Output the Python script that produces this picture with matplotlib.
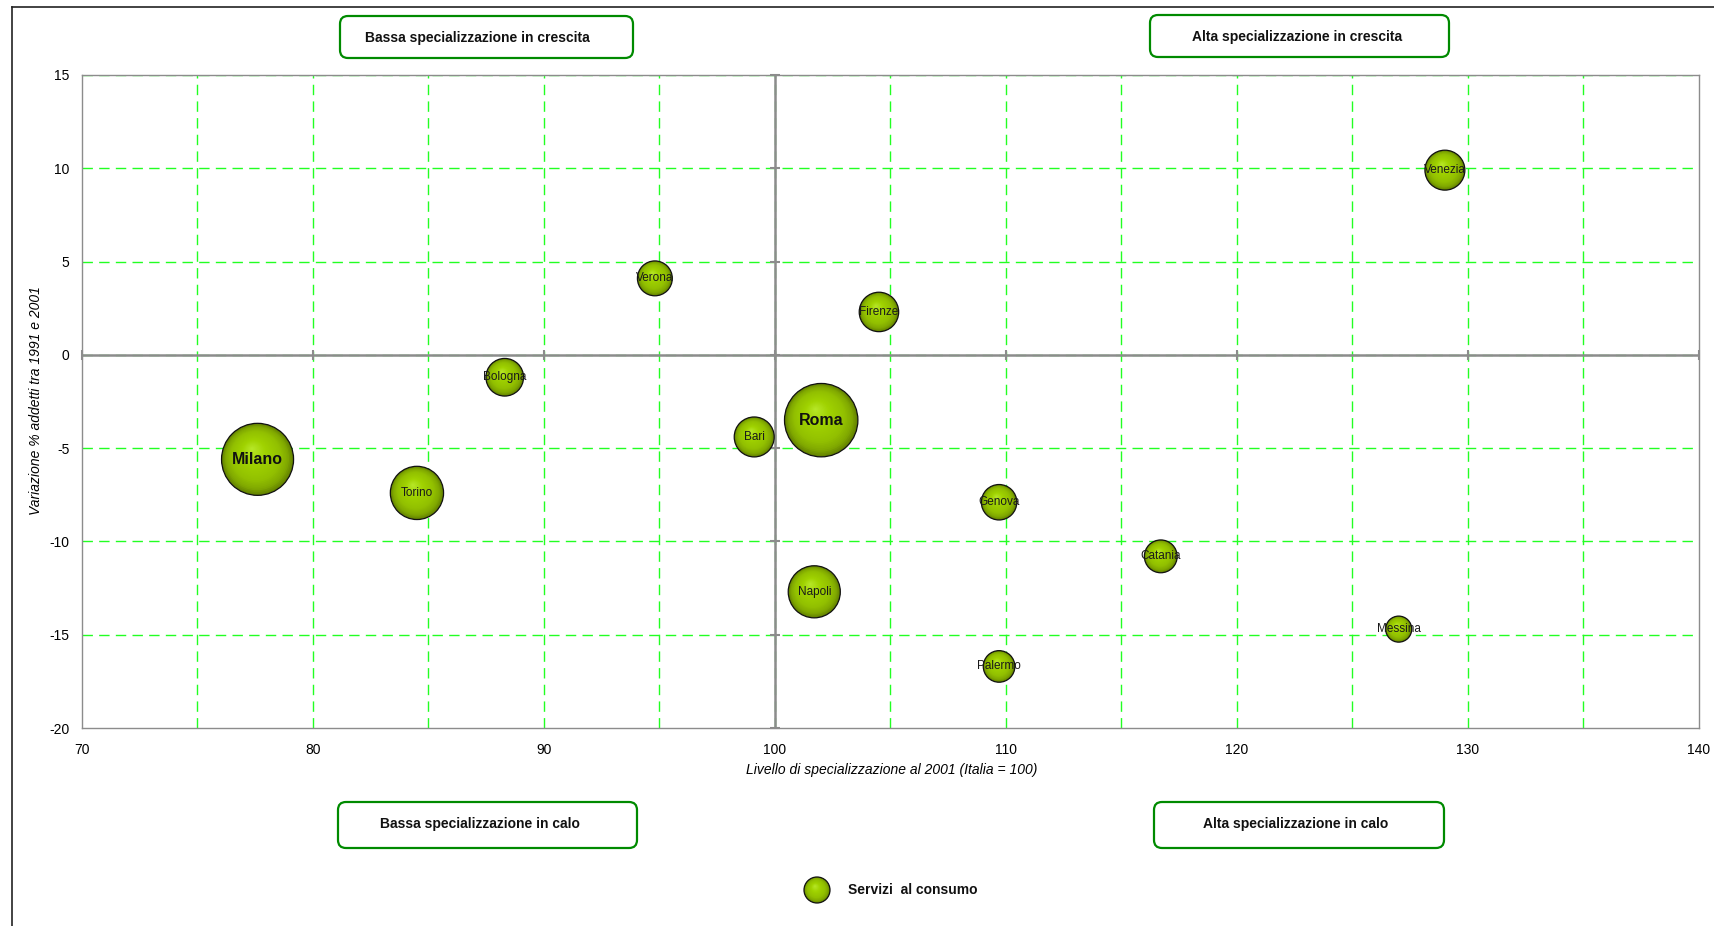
import numpy as np
import matplotlib
matplotlib.use("Agg")
import matplotlib.pyplot as plt
from matplotlib import transforms as mtransforms
from matplotlib.patches import FancyBboxPatch
from matplotlib.colors import LinearSegmentedColormap
from matplotlib.lines import Line2D

# ---- data -------------------------------------------------------------
cities = ["Milano", "Torino", "Bologna", "Verona", "Bari", "Roma", "Napoli",
          "Firenze", "Genova", "Palermo", "Catania", "Messina", "Venezia"]
specializzazione = [77.6, 84.5, 88.3, 94.8, 99.1, 102.0, 101.7,
                    104.5, 109.7, 109.7, 116.7, 127.0, 129.0]
variazione = [-5.6, -7.4, -1.2, 4.1, -4.4, -3.5, -12.7,
              2.3, -7.9, -16.7, -10.8, -14.7, 9.9]
addetti = [1300, 710, 355, 305, 400, 1350, 680,
           390, 315, 250, 270, 170, 400]
bold_cities = ["Milano", "Roma"]

x_ticks = [70, 80, 90, 100, 110, 120, 130, 140]
y_ticks = [-20, -15, -10, -5, 0, 5, 10, 15]

quadrants = ["Bassa specializzazione in crescita", "Alta specializzazione in crescita",
             "Bassa specializzazione in calo", "Alta specializzazione in calo"]
series_name = "Servizi  al consumo"
x_title = "Livello di specializzazione al 2001 (Italia = 100)"
y_title = "Variazione % addetti tra 1991 e 2001"

# ---- figure -----------------------------------------------------------
W, H, DPI = 1715, 926, 100
plt.rcParams["font.family"] = ["Liberation Sans", "DejaVu Sans"]
plt.rcParams["axes.unicode_minus"] = False
fig = plt.figure(figsize=(W / DPI, H / DPI), dpi=DPI)
fig.patch.set_facecolor("white")


def fx(px):
    return px / W


def fy(py_top):
    return 1 - py_top / H


ax = fig.add_axes([fx(82), fy(728), fx(1699) - fx(82), fy(75) - fy(728)])
ax.set_xlim(70, 140)
ax.set_ylim(-20, 15)
for sp in ax.spines.values():
    sp.set_color("#8c8c8c")
    sp.set_linewidth(1.0)

ax.set_xticks(x_ticks)
ax.set_yticks(y_ticks)
ax.tick_params(axis="both", length=0, labelsize=10, colors="black")
ax.tick_params(axis="x", pad=11)
ax.tick_params(axis="y", pad=9)

# dashed green grid every 5 units
grid_kw = dict(color="#22ff22", lw=1.0, ls=(0, (7.5, 4.5)), zorder=1)
for gx in np.arange(75, 140, 5):
    ax.axvline(gx, **grid_kw)
for gy in np.arange(-15, 16, 5):
    ax.axhline(gy, **grid_kw)

# crossing axes at (100, 0)
ax.axvline(100, color="#8c8c8c", lw=1.8, zorder=2)
ax.axhline(0, color="#8c8c8c", lw=1.8, zorder=2)
ax.plot(x_ticks, [0] * len(x_ticks), ls="none", marker="|", ms=7, mew=1.5,
        color="#8c8c8c", zorder=2, clip_on=False)
ax.plot([100] * len(y_ticks), y_ticks, ls="none", marker="_", ms=7, mew=1.5,
        color="#8c8c8c", zorder=2, clip_on=False)

# ---- bubbles ----------------------------------------------------------
shade = LinearSegmentedColormap.from_list(
    "bubble", [(0.0, "#b8e82a"), (0.35, "#a0d200"), (0.7, "#92c000"),
               (0.88, "#80a800"), (1.0, "#638200")])
R_MAX = 36.7  # px radius of the largest bubble
a_max = max(addetti)


def draw_bubble(x, y, r_px, base_tf, z, clip=True):
    n = 28
    for i in range(n):
        f = 1 - i / n
        dx = -0.16 * r_px * (1 - f)
        dy = 0.30 * r_px * (1 - f)
        off = mtransforms.ScaledTranslation(dx / DPI, dy / DPI, fig.dpi_scale_trans)
        s = (2 * r_px * f * 72 / DPI) ** 2
        ax.scatter([x], [y], s=s, color=shade(f), edgecolors="none",
                   transform=base_tf + off, zorder=z + i * 0.001, clip_on=clip)
    ax.scatter([x], [y], s=(2 * r_px * 72 / DPI) ** 2, facecolors="none",
               edgecolors="#111111", linewidths=0.9, transform=base_tf,
               zorder=z + 0.1, clip_on=clip)


order = np.argsort(addetti)[::-1]
for k, idx in enumerate(order):
    r = R_MAX * np.sqrt(addetti[idx] / a_max)
    draw_bubble(specializzazione[idx], variazione[idx], r, ax.transData, 3 + k * 0.2)

for name, xv, yv in zip(cities, specializzazione, variazione):
    if name in bold_cities:
        ax.text(xv, yv, name, ha="center", va="center", fontsize=11.5,
                fontweight="bold", color="#111111", zorder=10)
    else:
        ax.text(xv, yv, name, ha="center", va="center", fontsize=8.5,
                color="#1a1a1a", zorder=10)

# ---- titles -----------------------------------------------------------
fig.text(fx(892), fy(770), x_title, ha="center", va="center", fontsize=10,
         style="italic")
fig.text(fx(36), fy(401), y_title, ha="center", va="center", fontsize=10,
         style="italic", rotation=90)

# ---- quadrant boxes ---------------------------------------------------
boxes = [(340, 16, 633, 58, 477, 38), (1150, 15, 1449, 57, 1297, 37),
         (338, 802, 637, 848, 480, 824), (1154, 802, 1444, 848, 1296, 824)]
for label, (x0, y0, x1, y1, tx, ty) in zip(quadrants, boxes):
    patch = FancyBboxPatch((x0, H - y1), x1 - x0, y1 - y0,
                           boxstyle="round,pad=0,rounding_size=8",
                           transform=mtransforms.IdentityTransform(),
                           facecolor="white", edgecolor="#008a00", linewidth=1.6)
    fig.add_artist(patch)
    fig.text(fx(tx), fy(ty), label, ha="center", va="center", fontsize=10,
             fontweight="bold", color="#111111")

# ---- legend -----------------------------------------------------------
draw_bubble(fx(817), fy(890), 13, fig.transFigure, 20, clip=False)
fig.text(fx(848), fy(890), series_name, ha="left", va="center", fontsize=10,
         fontweight="bold", color="#111111")

# ---- outer frame (left and top edges) ---------------------------------
fig.add_artist(Line2D([fx(12), fx(12)], [0, fy(7)], transform=fig.transFigure,
                      color="#222222", lw=1.2))
fig.add_artist(Line2D([fx(12), 1], [fy(7), fy(7)], transform=fig.transFigure,
                      color="#222222", lw=1.2))

fig.savefig("out.png", dpi=DPI, facecolor="white")
